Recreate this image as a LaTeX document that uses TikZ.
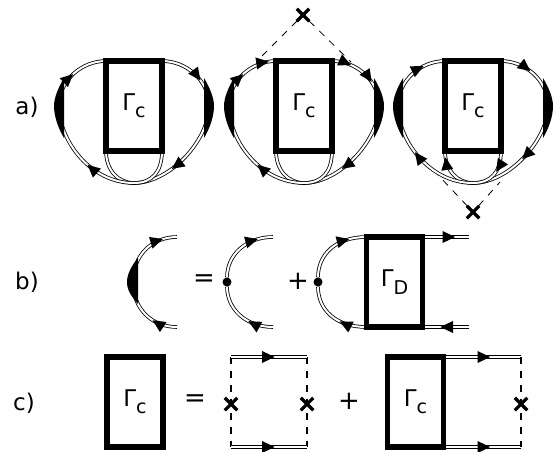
\documentclass[tikz,border=0pt]{standalone}
\usepackage{fontspec}
\setmainfont{DejaVu Sans}
\usetikzlibrary{arrows.meta}
\usetikzlibrary{positioning}
\usetikzlibrary{backgrounds}
\usetikzlibrary{decorations.markings}
\usetikzlibrary{shapes.misc}
\tikzset{
  vbox/.style = {draw=black, line width=5.2pt, minimum width=56pt, minimum height=90pt,
    inner sep=0pt, outer sep=0pt, font=\fontsize{23}{26}\selectfont},
  prop/.style = {draw=black, line width=.8pt, double=white, double distance=2pt},
  tip/.style = {postaction={decorate,decoration={markings,
    mark=at position #1 with {\arrow{Triangle[length=13pt,width=11pt]}}}}},
  cutx/.style = {cross out, draw=black, line width=3.2pt, minimum size=12.5pt,
    inner sep=0pt, outer sep=0pt},
  extl/.style = {dash pattern=on 7pt off 7pt, line width=.8pt},
  extv/.style = {dash pattern=on 7pt off 7pt, line width=1.2pt},
  vtx/.style = {circle, fill=black, minimum size=9pt, inner sep=0pt},
  lab/.style = {font=\fontsize{23}{26}\selectfont, inner sep=0pt},
  oper/.style = {font=\fontsize{26}{28}\selectfont, inner sep=0pt}
}
\newcommand{\gc}{Γ\raisebox{-.32em}{\fontsize{19}{20}\selectfont c}}
\newcommand{\gd}{Γ\raisebox{-.32em}{\fontsize{19}{20}\selectfont D}}
\begin{document}
\begin{tikzpicture}[x=1pt,y=-1pt]
\useasboundingbox (0,0) rectangle (554,451);
% a)
\node [lab] (la) at (27,107) {a)};
\node [vbox] (g1) at (134,106) {\gc};
\node [vbox] (g2) at (304,106) {\gc};
\node [vbox] (g3) at (473,106) {\gc};
\node [cutx] (x2) at (303,15) {};
\node [cutx] (x3) at (473,212) {};
\coordinate (x2l) at (258,60);
\coordinate (x2r) at (351,62);
\coordinate (x3l) at (438,175);
\coordinate (x3r) at (500,182);
\draw[extl] (x2) -- (x2l);
\draw[extl] (x2) -- (x2r);
\draw[extl] (x3) -- (x3l);
\draw[extl] (x3) -- (x3r);

\begin{scope}[on background layer]
% first loop
\draw[prop,tip=45pt,tip=148pt] (g1.north east) .. controls (186,61) and (209,80) .. (209,106)
  .. controls (209,140) and (170,183) .. (134,183) .. controls (118,183) and (106,170) .. (g1.south west);
\draw[prop,tip=100pt,tip=203pt] (g1.south east) .. controls (162,172) and (152,183) .. (134,183)
  .. controls (90,183) and (59,140) .. (59,106) .. controls (59,80) and (82,61) .. (g1.north west);
% second loop
\draw[prop,tip=20pt,tip=47pt,tip=148pt] (g2.north east) .. controls (356,61) and (379,80) .. (379,106)
  .. controls (379,140) and (340,183) .. (304,183) .. controls (288,183) and (276,170) .. (g2.south west);
\draw[prop,tip=100pt,tip=203pt,tip=232pt] (g2.south east) .. controls (332,172) and (322,183) .. (304,183)
  .. controls (260,183) and (229,140) .. (229,106) .. controls (229,80) and (252,61) .. (g2.north west);
% third loop
\draw[prop,tip=32pt,tip=133pt,tip=-6pt] (g3.north east) .. controls (525,61) and (548,80) .. (548,106)
  .. controls (548,140) and (509,183) .. (473,183) .. controls (457,183) and (445,170) .. (g3.south west);
\draw[prop,tip=22pt,tip=117pt,tip=217pt] (g3.south east) .. controls (501,172) and (491,183) .. (473,183)
  .. controls (429,183) and (398,140) .. (398,106) .. controls (398,80) and (421,61) .. (g3.north west);
% dressed parts
\foreach \cx in {134,304,473} {
  \fill (\cx-70,78) .. controls (\cx-76,88) and (\cx-80,98) .. (\cx-80,106)
    .. controls (\cx-80,116) and (\cx-76,128) .. (\cx-70,138) -- cycle;
  \fill (\cx+70,78) .. controls (\cx+76,88) and (\cx+80,98) .. (\cx+80,106)
    .. controls (\cx+80,116) and (\cx+76,128) .. (\cx+70,138) -- cycle;
}
\end{scope}

% b)
\node [lab] (lb) at (27,282) {b)};
\coordinate (p1t) at (177,237);
\coordinate (p1b) at (177,327);
\coordinate (p2t) at (273,237);
\coordinate (p2b) at (273,327);
\coordinate (p1m) at (133,282);
\node [oper] (eqb) at (204,281) {=};
\node [oper] (plb) at (298,281) {+};
\node [vtx] (d2) at (227,282) {};
\node [vtx] (d3) at (318,282) {};
\node [vbox] (gd) at (394.5,282) {\gd};
\coordinate (gdt) at (469,237);
\coordinate (gdb) at (469,327);
\begin{scope}[on background layer]
\draw[prop,tip=-14pt] (p1m) .. controls (133,255) and (152,237) .. (p1t);
\draw[prop,tip=26pt] (p1b) .. controls (152,327) and (133,309) .. (p1m);
\fill (138,258) .. controls (131,266) and (127,275) .. (127,282) .. controls (127,290) and (131,296) .. (138,304) -- cycle;
\draw[prop,tip=-15pt] (d2) .. controls (227,255) and (246,237) .. (p2t);
\draw[prop,tip=26pt] (p2b) .. controls (246,327) and (227,309) .. (d2);
\draw[prop,tip=-17pt] (d3) .. controls (318,255) and (335,237) .. (gd.north west);
\draw[prop,tip=28pt] (gd.south west) .. controls (335,327) and (318,309) .. (d3);
\draw[prop,tip=33pt] (gd.north east) -- (gdt);
\draw[prop,tip=29pt] (gdb) -- (gd.south east);
\end{scope}

% c)
\node [lab] (lc) at (24,403) {c)};
\node [vbox] (g4) at (135,402) {\gc};
\node [oper] (eqc) at (195,401) {=};
\node [oper] (plc) at (349,401) {+};
\node [vbox] (g5) at (415.5,402) {\gc};
\node [cutx] (x4) at (231,404) {};
\node [cutx] (x5) at (307,404) {};
\node [cutx] (x6) at (521,404) {};
\coordinate (t4) at (231,357);
\coordinate (b4) at (231,447);
\coordinate (t5) at (307,357);
\coordinate (b5) at (307,447);
\coordinate (t6) at (521,357);
\coordinate (b6) at (521,447);
\draw[extv] (t4) -- (b4);
\draw[extv] (t5) -- (b5);
\draw[extv] (t6) -- (b6);
\draw[prop,tip=44pt] (t4) -- (t5);
\draw[prop,tip=44pt] (b4) -- (b5);
\begin{scope}[on background layer]
\draw[prop,tip=47pt] (g5.north east) -- (t6);
\draw[prop,tip=47pt] (g5.south east) -- (b6);
\end{scope}
\end{tikzpicture}
\end{document}
